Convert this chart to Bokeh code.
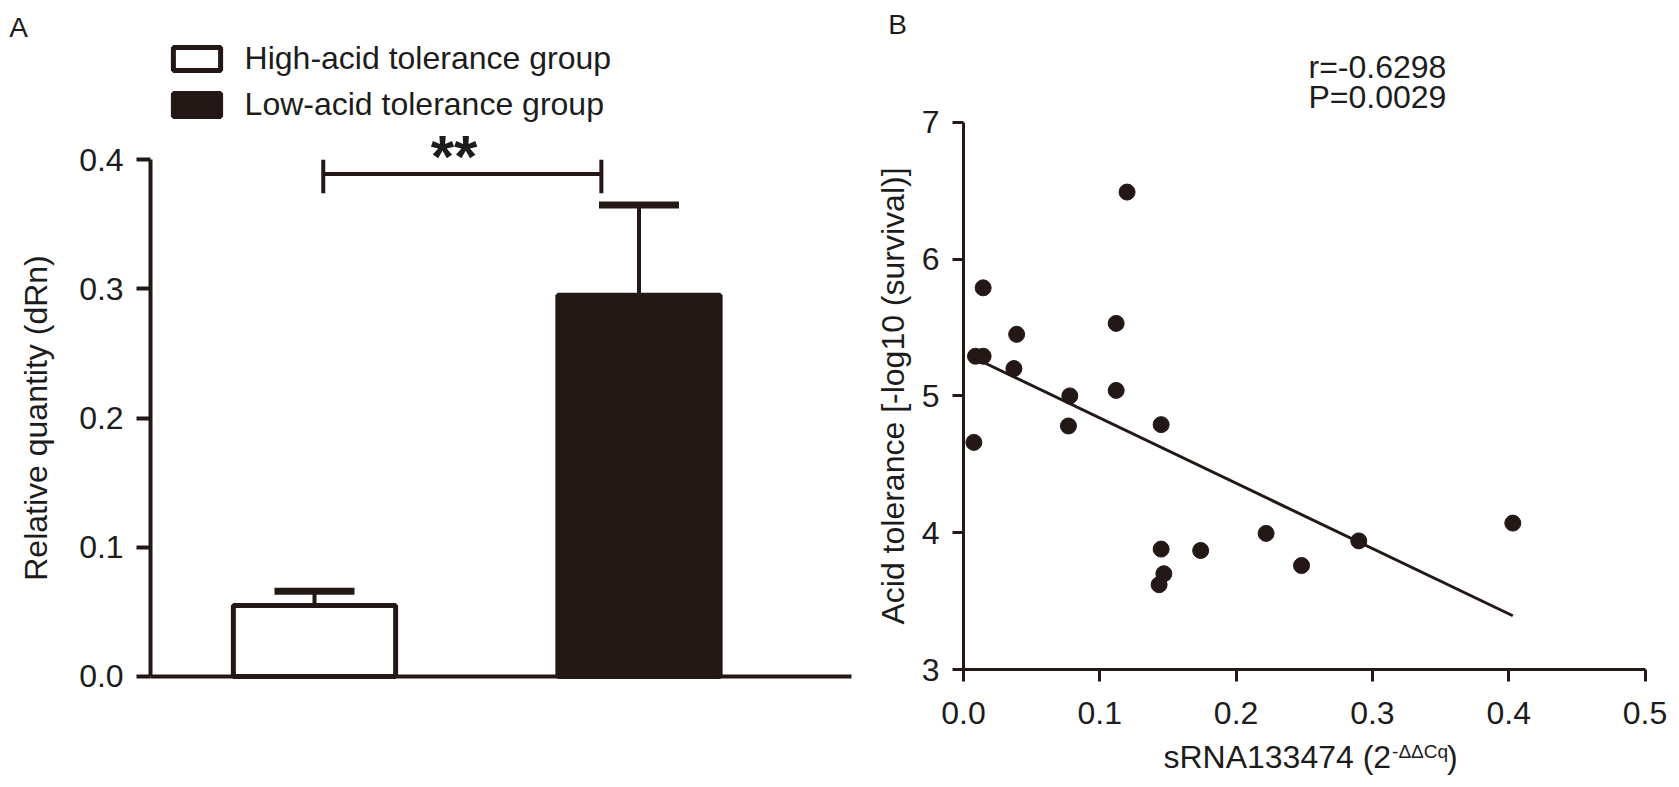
from bokeh.plotting import figure
from bokeh.layouts import row
from bokeh.models import (ColumnDataSource, Whisker, TeeHead, FixedTicker, PrintfTickFormatter,
                          Legend, LegendItem, Range1d)
from bokeh.core.properties import value
from bokeh.embed import file_html
from bokeh.resources import INLINE

FONT = "Liberation Sans"
INK = "#231815"
TXT = "#1c1c1c"

# ---------------- data: panel A ----------------
groups = ["High-acid tolerance group", "Low-acid tolerance group"]
group_means = [0.055, 0.295]
group_errors = [0.011, 0.070]
a_ticks = [0.0, 0.1, 0.2, 0.3, 0.4]
signif_label = "**"
a_ylabel = "Relative quantity (dRn)"

# ---------------- data: panel B ----------------
srna = [0.120, 0.0144, 0.039, 0.112, 0.0088, 0.0144, 0.037, 0.078, 0.112, 0.077,
        0.145, 0.0076, 0.222, 0.145, 0.174, 0.248, 0.290, 0.403, 0.147, 0.1435]
acid_tol = [6.49, 5.79, 5.45, 5.53, 5.29, 5.29, 5.20, 5.00, 5.04, 4.78,
            4.79, 4.66, 3.995, 3.88, 3.87, 3.76, 3.94, 4.07, 3.70, 3.62]
fit_x = [0.0076, 0.403]
fit_y = [5.279, 3.393]
b_xticks = [0.0, 0.1, 0.2, 0.3, 0.4, 0.5]
b_yticks = [3, 4, 5, 6, 7]
stat_lines = ["r=-0.6298", "P=0.0029"]
b_ylabel = "Acid tolerance [-log10 (survival)]"
b_xlabel_main = "sRNA133474 (2"
b_xlabel_sup = "-\u0394\u0394Cq"
b_xlabel_end = ")"

H = 785


def style_axis(ax, lw):
    ax.axis_line_color = INK
    ax.axis_line_width = lw
    ax.major_tick_line_color = INK
    ax.major_tick_line_width = lw
    ax.minor_tick_line_color = None
    ax.major_tick_in = 0
    ax.major_label_text_font = FONT
    ax.major_label_text_font_size = "32px"
    ax.major_label_text_color = TXT
    ax.axis_label_text_font = FONT
    ax.axis_label_text_font_size = "32px"
    ax.axis_label_text_font_style = "normal"
    ax.axis_label_text_color = TXT


def txt(p, x, y, s, size, align="left", baseline="middle", style="normal"):
    p.text(x=[x], y=[y], text=[s], text_align=align, text_baseline=baseline,
           text_font=value(FONT), text_font_size=size, text_font_style=style,
           text_color=TXT)


# ================= Panel A =================
pA = figure(width=858, height=H, output_backend="svg", toolbar_location=None,
            x_range=Range1d(0.03236, 2.67643), y_range=Range1d(-0.08437, 0.52322),
            min_border=0)
pA.grid.visible = False
pA.outline_line_color = None

pos = [i + 1 for i in range(len(groups))]
upper = [m + e for m, e in zip(group_means, group_errors)]
a_axis_x = 0.495

r1 = pA.vbar(x=[pos[0]], top=[group_means[0]], bottom=0, width=0.5,
             fill_color="white", line_color=INK, line_width=5)
r2 = pA.vbar(x=[pos[1]], top=[group_means[1]], bottom=0, width=0.5,
             fill_color=INK, line_color=INK, line_width=5)

err_src = ColumnDataSource(dict(x=pos, lower=group_means, upper=upper))
wh = Whisker(source=err_src, base="x", lower="lower", upper="upper",
             line_color=INK, line_width=4, lower_head=None,
             upper_head=TeeHead(size=80, line_color=INK, line_width=7))
wh.level = "overlay"
pA.add_layout(wh)

# significance bracket
bx0, bx1, by, bt0, bt1 = pos[0] + 0.027, pos[1] - 0.116, 0.389, 0.374, 0.400
pA.segment(x0=[bx0, bx0, bx1], y0=[by, bt0, bt0], x1=[bx1, bx0, bx1], y1=[by, bt1, bt1],
           line_color=INK, line_width=4)
txt(pA, 1.43, 0.4026, signif_label, "60px", align="center", baseline="alphabetic", style="bold")

legend = Legend(items=[LegendItem(label=groups[0], renderers=[r1]),
                       LegendItem(label=groups[1], renderers=[r2])],
                location=(166.6, H - 123), orientation="vertical", glyph_width=59, glyph_height=29,
                label_standoff=19, spacing=9, padding=0, margin=0,
                border_line_color=None, background_fill_alpha=0,
                label_text_font=FONT, label_text_font_size="32px", label_text_color=TXT)
pA.add_layout(legend)

style_axis(pA.xaxis[0], 4)
pA.xaxis.ticker = FixedTicker(ticks=[])
pA.xaxis.major_tick_line_color = None
pA.xaxis.major_label_text_font_size = "0px"
pA.xaxis.fixed_location = 0
pA.xaxis.bounds = (a_axis_x, 2.655)

style_axis(pA.yaxis[0], 4)
pA.yaxis.ticker = FixedTicker(ticks=a_ticks)
pA.yaxis.bounds = (0, 0.4)
pA.yaxis.fixed_location = a_axis_x
pA.yaxis.formatter = PrintfTickFormatter(format="%.1f")
pA.yaxis.major_tick_out = 14
pA.yaxis.major_label_standoff = 13
pA.yaxis.axis_label = a_ylabel
pA.yaxis.axis_label_standoff = 22

txt(pA, 0.08783, 0.50232, "A", "28px", align="center")

# ================= Panel B =================
pB = figure(width=817, height=H, output_backend="svg", toolbar_location=None,
            x_range=Range1d(-0.07704, 0.52237), y_range=Range1d(2.15205, 7.89035),
            min_border=0)
pB.grid.visible = False
pB.outline_line_color = None

pB.line(x=fit_x, y=fit_y, line_color=INK, line_width=3)
pB.scatter(x=srna, y=acid_tol, size=16, marker="circle", fill_color=INK, line_color=INK)

txt(pB, 0.3037, 7.4006, stat_lines[0], "32px", align="center")
txt(pB, 0.3037, 7.1813, stat_lines[1], "32px", align="center")

style_axis(pB.xaxis[0], 3)
pB.xaxis.ticker = FixedTicker(ticks=b_xticks)
pB.xaxis.formatter = PrintfTickFormatter(format="%.1f")
pB.xaxis.bounds = (0, 0.5)
pB.xaxis.fixed_location = 3
pB.xaxis.major_tick_out = 12
pB.xaxis.major_label_standoff = 20

style_axis(pB.yaxis[0], 3)
pB.yaxis.ticker = FixedTicker(ticks=b_yticks)
pB.yaxis.formatter = PrintfTickFormatter(format="%d")
pB.yaxis.bounds = (3, 7)
pB.yaxis.fixed_location = 0
pB.yaxis.major_tick_out = 11
pB.yaxis.major_label_standoff = 13
pB.yaxis.axis_label = b_ylabel
pB.yaxis.axis_label_standoff = 8

txt(pB, -0.04842, 7.7149, "B", "28px", align="center")

# x-axis title with superscript, as three pieces of text
xl_start, xl_mid, sup_mid = 0.1467, 2.3604, 2.4006
main_w = 228.6 / 1363.0   # width of main piece in data units (32px)
sup_w = 55.0 / 1363.0     # width of superscript (19px)
txt(pB, xl_start, xl_mid, b_xlabel_main, "32px")
txt(pB, xl_start + main_w, sup_mid, b_xlabel_sup, "19px")
txt(pB, xl_start + main_w + sup_w, xl_mid, b_xlabel_end, "32px")

layout = row(pA, pB)
open("out.html", "w").write(file_html(layout, INLINE))
